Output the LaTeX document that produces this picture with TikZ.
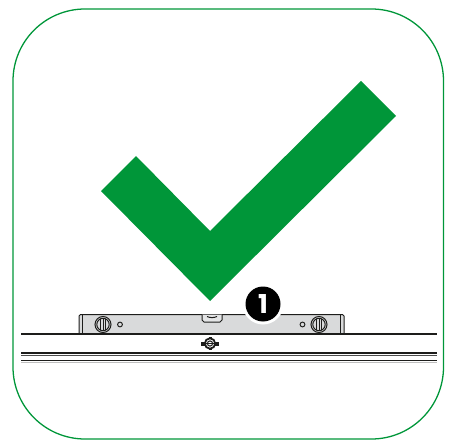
\documentclass[tikz,border=0pt]{standalone}
\usepackage{fontspec}
\setmainfont{Poppins}
\definecolor{gr}{HTML}{009639}
\definecolor{lvl}{HTML}{D9DADB}
\definecolor{ink}{HTML}{1D1D1B}
\tikzset{x=1pt,y=-1pt,
  line/.style={draw=ink,line width=1.6pt},
  thin/.style={draw=ink,line width=1pt},
}
\begin{document}
\begin{tikzpicture}
\useasboundingbox (0,0) rectangle (453,441);
\draw[gr,line width=1.3pt,rounded corners=72pt] (13,9) rectangle (443.5,439);
\fill[gr] (361,81) -- (396,116) -- (210,301) -- (101,191) -- (136,156) -- (210,231) -- cycle;
% level
\draw[thin,fill=lvl] (79,333.5) -- (79,316) -- (80.5,314.5) -- (342.5,314.5) -- (344,316) -- (344,333.5) -- cycle;
\draw[thin] (82,314.5) -- (82,333.5) (340.5,314.5) -- (340.5,333.5);
\draw[thin,fill=lvl!70!white] (202,314.5) -- (202,320) -- (204,322) -- (220,322) -- (222,320) -- (222,314.5);
\draw[thin] (207,316.5) .. controls (210,318) and (214,318) .. (217,316.5);
\foreach \c in {103,319}{
  \draw[thin] (\c,324.5) circle[radius=8];
  \draw[thin] (\c,324.5) circle[radius=6.2];
  \draw[thin] (\c-2.4,318.7) -- (\c-2.4,330.3) (\c,318.3) -- (\c,330.7) (\c+2.4,318.7) -- (\c+2.4,330.3);
}
\draw[thin] (120,324.5) circle[radius=2.4] (302.5,324.5) circle[radius=2.4];
% surface
\draw[line] (21,334) -- (437,334);
\draw[line] (21,352.8) -- (437,352.8);
\draw[line width=1pt,black!70] (21,355.8) -- (437,355.8);
\draw[line width=1.2pt,ink] (21,360.6) -- (437,360.6);
\draw[line width=0.8pt,black!25] (21,362) -- (437,362);
% bolt
\fill[ink] (201,341.5) rectangle (219,345.5);
\fill[ink] (208.5,337) rectangle (211.5,350);
\draw[ink,line width=1.8pt,fill=white] (210,343.5) circle[radius=5.2];
\draw[ink,line width=1.2pt] (205,343.5) -- (215,343.5);
\draw[ink,line width=1pt] (210,343.5) circle[radius=2.6];
% badge
\fill[white] (263,304) circle[radius=20.5];
\node[circle,fill=black,minimum size=35pt,inner sep=0pt,text=white,font=\bfseries\fontsize{26}{26}\selectfont] (badge) at (263,304) {1};
\end{tikzpicture}
\end{document}
